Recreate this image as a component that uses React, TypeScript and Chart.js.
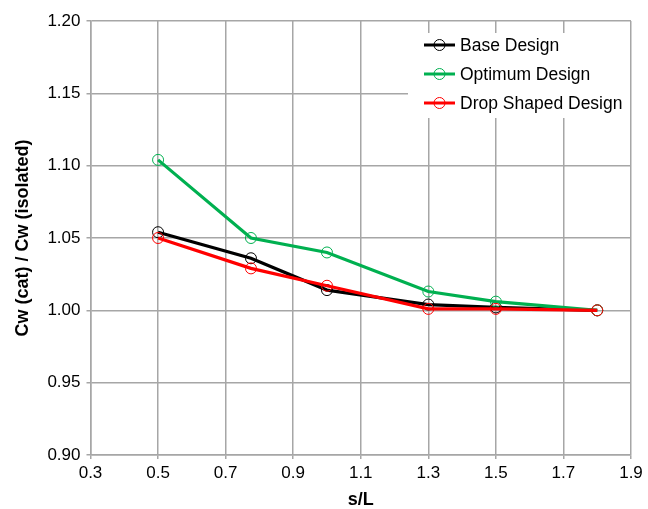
import React, { useEffect, useRef } from "react";
import { Chart, registerables } from "chart.js";

Chart.register(...registerables);

const xValues = [0.5, 0.775, 1.0, 1.3, 1.5, 1.8];
const baseDesign = [1.054, 1.036, 1.014, 1.004, 1.002, 1.0];
const optimumDesign = [1.104, 1.05, 1.04, 1.013, 1.006, 1.0];
const dropShapedDesign = [1.05, 1.029, 1.017, 1.001, 1.001, 1.0];

const seriesNames = ["Base Design", "Optimum Design", "Drop Shaped Design"];
const seriesColors = ["#000000", "#00b050", "#ff0000"];
const seriesOrder = [2, 1, 0];

const FONT = "'Liberation Sans', Arial, Helvetica, sans-serif";
const GRID = "#a6a6a6";

const legendPlugin = {
  id: "boxLegend",
  afterDatasetsDraw(chart: any) {
    const { ctx, chartArea } = chart;
    const x0 = chartArea.right - 223;
    const y0 = chartArea.top + 12;
    ctx.save();
    ctx.fillStyle = "#ffffff";
    ctx.fillRect(x0, y0, 222, 85);
    ctx.font = `17.5px ${FONT}`;
    ctx.textBaseline = "middle";
    ctx.textAlign = "left";
    chart.data.datasets.forEach((ds: any, i: number) => {
      const y = y0 + 12 + i * 29;
      ctx.strokeStyle = ds.borderColor;
      ctx.lineWidth = 3;
      ctx.beginPath();
      ctx.moveTo(x0 + 16, y);
      ctx.lineTo(x0 + 47, y);
      ctx.stroke();
      ctx.lineWidth = 1;
      ctx.beginPath();
      ctx.arc(x0 + 31.5, y, 5.5, 0, Math.PI * 2);
      ctx.stroke();
      ctx.fillStyle = "#000";
      ctx.fillText(ds.label, x0 + 52, y + 1);
    });
    ctx.restore();
  },
};

export default function App() {
  const ref = useRef<HTMLCanvasElement>(null);
  useEffect(() => {
    document.body.style.margin = "0";
    const series = [baseDesign, optimumDesign, dropShapedDesign];
    const chart = new Chart(ref.current!, {
      type: "line",
      data: {
        datasets: series.map((vals, i) => ({
          label: seriesNames[i],
          data: xValues.map((x, j) => ({ x, y: vals[j] })),
          order: seriesOrder[i],
          borderColor: seriesColors[i],
          backgroundColor: "transparent",
          borderWidth: 3.2,
          pointRadius: 5.5,
          pointBorderWidth: 1,
          pointBackgroundColor: "transparent",
          pointBorderColor: seriesColors[i],
          tension: 0,
        })),
      },
      options: {
        animation: false,
        responsive: false,
        maintainAspectRatio: false,
        layout: { padding: { left: 0, right: 17, top: 21, bottom: 0 } },
        plugins: { legend: { display: false }, tooltip: { enabled: false } },
        scales: {
          x: {
            type: "linear",
            min: 0.3,
            max: 1.9,
            ticks: {
              stepSize: 0.2,
              color: "#000",
              font: { family: FONT, size: 17 },
              padding: 4,
              callback: (v: any) => Number(v).toFixed(1),
            },
            grid: { color: GRID, lineWidth: 1.5, tickLength: 4, tickColor: GRID },
            border: { color: GRID, width: 1.5 },
            title: {
              display: true,
              text: "s/L",
              color: "#000",
              font: { family: FONT, size: 18, weight: "bold", lineHeight: 1 },
              padding: { top: 0, bottom: 0 },
            },
            afterFit: (s: any) => {
              s.height = 54;
            },
          },
          y: {
            type: "linear",
            min: 0.9,
            max: 1.2,
            ticks: {
              stepSize: 0.05,
              color: "#000",
              font: { family: FONT, size: 17 },
              padding: 6,
              callback: (v: any) => Number(v).toFixed(2),
            },
            grid: { color: GRID, lineWidth: 1.5, tickLength: 4, tickColor: GRID },
            border: { color: GRID, width: 1.5 },
            title: {
              display: true,
              text: "Cw (cat) / Cw (isolated)",
              color: "#000",
              font: { family: FONT, size: 18, weight: "bold", lineHeight: 1.2 },
              padding: { top: 12, bottom: 0 },
            },
            afterFit: (s: any) => {
              s.width = 90.5;
            },
          },
        },
      },
      plugins: [legendPlugin],
    });
    return () => chart.destroy();
  }, []);
  return (
    <div style={{ position: "fixed", left: 0, top: 0, width: 648, height: 509, background: "#fff" }}>
      <canvas ref={ref} width={648} height={509} style={{ width: 648, height: 509 }} />
    </div>
  );
}
